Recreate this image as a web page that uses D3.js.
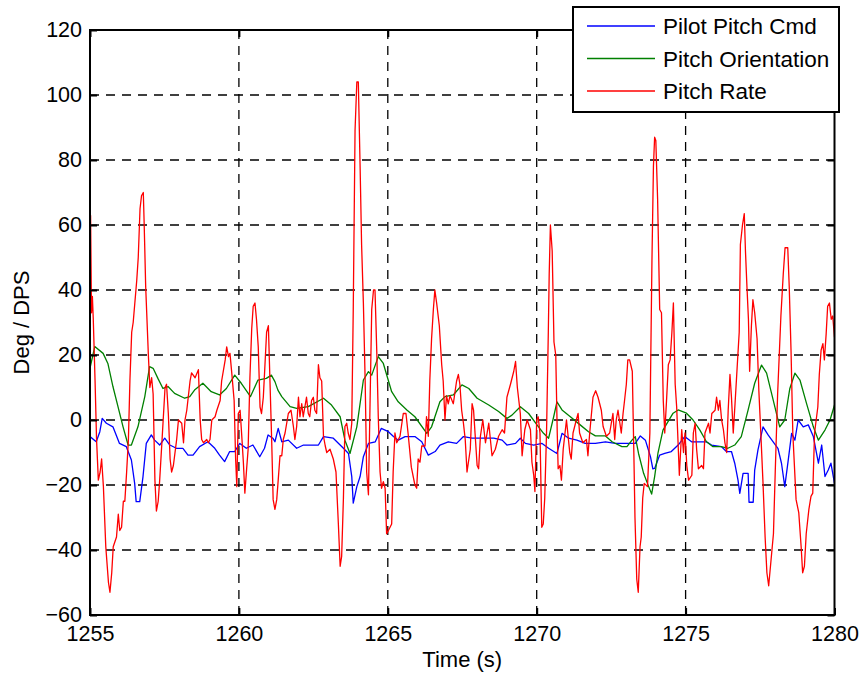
<!DOCTYPE html>
<html><head><meta charset="utf-8">
<script src="https://cdn.jsdelivr.net/npm/d3@7/dist/d3.min.js"></script>
<style>body{margin:0;background:#fff}svg{display:block}</style>
</head><body><svg id="c" width="862" height="681"></svg>
<script>
const xTicks=[1255,1260,1265,1270,1275,1280];
const yTicks=[-60,-40,-20,0,20,40,60,80,100,120];
const seriesNames=["Pilot Pitch Cmd","Pitch Orientation","Pitch Rate"];
const seriesColors=["#0000ff","#008000","#ff0000"];
const xLabel="Time (s)";
const yLabel="Deg / DPS";

const pilotCmd=[[1255,-5.1],[1255.21,-6.7],[1255.33,-3.6],[1255.41,0.5],[1255.55,-1],[1255.77,-2.1],[1255.99,-7.2],[1256.22,-8.2],[1256.39,-12.3],[1256.5,-19.5],[1256.55,-25.1],[1256.67,-25.1],[1256.78,-17.4],[1256.89,-7.2],[1257.06,-4.6],[1257.17,-6.2],[1257.34,-7.7],[1257.51,-5.6],[1257.68,-7.7],[1257.9,-8.7],[1258.12,-8.7],[1258.29,-10.8],[1258.46,-10.8],[1258.68,-8.2],[1258.96,-6.7],[1259.19,-8.7],[1259.35,-10.8],[1259.52,-12.8],[1259.69,-9.7],[1259.86,-9.7],[1260.03,-7.2],[1260.25,-8.7],[1260.47,-7.7],[1260.7,-11.3],[1260.86,-8.7],[1260.98,-4.6],[1261.14,-5.6],[1261.21,-6.7],[1261.32,-2.6],[1261.44,-6.7],[1261.66,-6.2],[1261.94,-8.7],[1262.17,-7.7],[1262.67,-7.7],[1262.84,-5.1],[1263.17,-5.6],[1263.51,-8.7],[1263.68,-10.3],[1263.79,-17.4],[1263.84,-25.6],[1263.96,-20.5],[1264.07,-17.4],[1264.18,-11.3],[1264.35,-7.2],[1264.58,-6.7],[1264.78,-2.6],[1265.02,-3.6],[1265.19,-5.1],[1265.35,-6.2],[1265.58,-5.1],[1265.91,-5.1],[1266.14,-6.7],[1266.36,-10.8],[1266.59,-9.7],[1266.75,-7.7],[1267.03,-6.7],[1267.31,-7.2],[1267.54,-5.1],[1267.83,-5.6],[1268.17,-5.6],[1268.56,-5.6],[1268.84,-6.2],[1269,-7.7],[1269.29,-7.2],[1269.45,-5.6],[1269.62,-7.2],[1269.9,-7.7],[1270.18,-7.2],[1270.4,-8.7],[1270.68,-10.3],[1270.85,-4.1],[1271.07,-5.6],[1271.35,-6.2],[1271.63,-7.2],[1271.97,-7.2],[1272.31,-6.7],[1272.64,-7.2],[1272.98,-7.2],[1273.31,-7.2],[1273.48,-4.9],[1273.65,-6.2],[1273.82,-11.3],[1273.9,-15],[1273.96,-14.9],[1274.13,-10.8],[1274.3,-10.3],[1274.52,-9.7],[1274.75,-7.7],[1274.97,-5.1],[1275.2,-6.7],[1275.7,-6.7],[1275.87,-7.7],[1276.2,-8.2],[1276.37,-9.7],[1276.54,-9.7],[1276.65,-13.3],[1276.76,-18.5],[1276.82,-22.6],[1276.93,-16.4],[1277.1,-16.4],[1277.13,-25.3],[1277.27,-25.3],[1277.32,-15.4],[1277.43,-9.2],[1277.6,-2.1],[1277.77,-4.6],[1277.94,-6.7],[1278.1,-8.7],[1278.22,-13.3],[1278.33,-20.5],[1278.44,-12.8],[1278.56,-4.1],[1278.67,-6.2],[1278.78,0],[1278.95,-2.1],[1279.12,-1.5],[1279.29,-5.1],[1279.46,-13.3],[1279.57,-7.7],[1279.68,-17.4],[1279.79,-15.4],[1279.88,-13.3],[1280,-19.5]];

const pitchOrient=[[1255,16],[1255.16,22.6],[1255.44,20.5],[1255.6,17.4],[1255.77,10.3],[1255.94,4.1],[1256.11,-2.1],[1256.28,-7.7],[1256.39,-7.7],[1256.61,-2.1],[1256.84,7.2],[1257,16.4],[1257.12,15.9],[1257.28,12.8],[1257.45,9.7],[1257.62,10.3],[1257.84,8.2],[1258.18,6.7],[1258.35,7.2],[1258.51,9.2],[1258.79,11.3],[1259.07,8.7],[1259.35,7.7],[1259.58,9.7],[1259.86,13.8],[1260.08,11.3],[1260.39,7.2],[1260.64,12.3],[1260.92,12.8],[1261.09,13.8],[1261.21,11.8],[1261.31,9.2],[1261.44,7.2],[1261.72,4.1],[1261.94,3.6],[1262.33,4.1],[1262.84,6.7],[1263.11,4.6],[1263.4,1],[1263.56,-6.2],[1263.73,-10.3],[1263.96,-2.1],[1264.18,12.3],[1264.35,14.9],[1264.46,13.8],[1264.68,19.5],[1264.85,17.4],[1265.13,8.7],[1265.35,5.6],[1265.64,3.1],[1265.91,1],[1266.31,-4.1],[1266.47,-2.1],[1266.75,5.6],[1266.92,7.2],[1267.2,7.7],[1267.49,10.8],[1267.72,9.7],[1268,6.7],[1268.39,4.6],[1268.72,2.6],[1269,0.5],[1269.17,1.5],[1269.45,4.1],[1269.73,2],[1270.01,-1.5],[1270.23,-4.1],[1270.4,-5.6],[1270.57,1],[1270.68,5.6],[1270.85,3.1],[1271.13,1],[1271.46,-1.5],[1271.74,-3.6],[1271.97,-4.9],[1272.31,-4.9],[1272.53,-6.7],[1272.86,-8.2],[1273.03,-8.2],[1273.2,-6.2],[1273.31,-5.1],[1273.42,-10.3],[1273.59,-16.4],[1273.76,-20.5],[1273.86,-22.8],[1273.96,-17.4],[1274.07,-10.3],[1274.24,-3.1],[1274.41,-0.5],[1274.58,2.1],[1274.75,3.1],[1275.03,2.1],[1275.25,0],[1275.48,-3.1],[1275.7,-6.7],[1275.92,-8.2],[1276.2,-8.2],[1276.42,-8.7],[1276.65,-7.7],[1276.87,-5.1],[1277.1,3.1],[1277.32,11.3],[1277.55,16.9],[1277.72,14.4],[1277.94,6.2],[1278.16,-2.1],[1278.33,0],[1278.5,9.7],[1278.67,14.4],[1278.84,12.3],[1279.06,5.1],[1279.29,-2.1],[1279.46,-6.2],[1279.68,-3.1],[1279.85,0],[1280,4.6]];

const pitchRate=[[1255.02,63],[1255.05,33],[1255.08,38],[1255.11,31],[1255.17,12],[1255.22,-6],[1255.28,-18.5],[1255.34,-16],[1255.39,-12],[1255.45,-20.5],[1255.53,-39],[1255.62,-50],[1255.67,-53],[1255.73,-47],[1255.78,-39],[1255.89,-36],[1255.95,-29],[1256,-34],[1256.06,-33],[1256.12,-25],[1256.17,-25],[1256.23,-16],[1256.29,-6],[1256.34,12],[1256.4,27],[1256.45,30],[1256.57,43],[1256.62,50],[1256.68,65],[1256.73,69],[1256.79,70],[1256.82,60],[1256.87,41],[1256.96,20],[1257.01,10],[1257.07,13],[1257.12,8],[1257.18,-18.5],[1257.23,-28],[1257.29,-25],[1257.34,-18.5],[1257.42,-6],[1257.52,10],[1257.57,11],[1257.63,2],[1257.69,-12],[1257.74,-16],[1257.8,-14],[1257.91,-6],[1257.97,0],[1258.08,-1],[1258.14,-7],[1258.19,0],[1258.25,3],[1258.36,12],[1258.41,14.5],[1258.53,13],[1258.64,15.5],[1258.7,0],[1258.75,-6],[1258.81,-7],[1258.92,-6],[1258.97,-7],[1259.03,-6],[1259.09,0],[1259.2,1],[1259.26,3],[1259.37,6],[1259.42,12],[1259.54,18.5],[1259.59,22.5],[1259.65,19.5],[1259.7,20.5],[1259.76,14.5],[1259.84,6],[1259.89,-12],[1259.93,-20.5],[1259.98,2],[1260.04,3],[1260.09,-4],[1260.15,-13],[1260.2,-22.5],[1260.26,-15],[1260.31,-9],[1260.37,13],[1260.43,28],[1260.48,35],[1260.54,36],[1260.59,31],[1260.65,22.5],[1260.71,4],[1260.76,2],[1260.82,7],[1260.87,16],[1260.93,27],[1260.99,29],[1261.04,13],[1261.1,-6],[1261.15,-24.5],[1261.21,-27.5],[1261.27,-24.5],[1261.32,-18.5],[1261.38,-11],[1261.44,-11],[1261.49,-6],[1261.55,-4],[1261.66,2],[1261.75,3],[1261.83,-2],[1261.88,-6],[1261.94,-2],[1262,7],[1262.05,1],[1262.11,5],[1262.16,1],[1262.27,7],[1262.33,2],[1262.38,1],[1262.44,6],[1262.5,7],[1262.55,3],[1262.61,2],[1262.67,17],[1262.72,13],[1262.78,12],[1262.84,-5],[1262.9,-8],[1262.95,-10],[1263.06,-9],[1263.17,-12],[1263.26,-16],[1263.34,-32],[1263.4,-45],[1263.45,-42],[1263.51,-24],[1263.56,-2],[1263.62,-1],[1263.67,-4],[1263.73,-6],[1263.79,-1],[1263.84,34],[1263.9,89],[1263.96,104],[1264.01,104],[1264.07,78],[1264.12,54],[1264.18,36],[1264.24,12],[1264.29,-16],[1264.35,-23],[1264.4,3],[1264.46,34],[1264.52,40],[1264.57,40],[1264.63,21],[1264.68,1],[1264.74,-16],[1264.79,-21],[1264.85,-19],[1264.91,-21],[1264.96,-35],[1265.02,-34],[1265.13,-32],[1265.18,-16],[1265.24,-4],[1265.3,-7],[1265.41,-5],[1265.52,2],[1265.61,2],[1265.68,-4],[1265.79,-14.5],[1265.91,-20],[1265.97,-21],[1266.02,-12],[1266.08,-13],[1266.14,-8],[1266.25,-8],[1266.3,1],[1266.36,-5],[1266.41,12],[1266.47,25],[1266.53,34],[1266.58,40],[1266.64,36],[1266.73,29],[1266.81,17],[1266.86,12],[1266.92,0],[1266.97,7.5],[1267.03,5],[1267.09,7.5],[1267.2,5],[1267.31,12],[1267.37,14],[1267.42,11],[1267.48,3],[1267.54,-1],[1267.6,-6],[1267.66,-16],[1267.77,-9],[1267.83,5],[1267.88,3],[1268,-14],[1268.05,-15],[1268.11,-5],[1268.19,0],[1268.28,-7],[1268.39,-1],[1268.5,-11],[1268.61,-9],[1268.72,-5],[1268.84,-3],[1268.92,-4],[1269,7],[1269.12,11],[1269.23,15],[1269.29,18],[1269.35,10],[1269.45,2],[1269.51,-11],[1269.6,-3],[1269.68,0],[1269.79,-3],[1269.84,-13],[1269.9,-17],[1269.94,-22],[1270,0],[1270.05,1],[1270.11,-4],[1270.17,-33],[1270.22,-32],[1270.27,-24],[1270.33,-4],[1270.39,27],[1270.42,45],[1270.46,60],[1270.52,52],[1270.58,24],[1270.64,20],[1270.69,-4],[1270.72,-15],[1270.78,-14],[1270.83,-18.5],[1270.89,-9],[1271,0],[1271.11,-10],[1271.16,-12],[1271.22,-4],[1271.33,0],[1271.39,2],[1271.44,-4],[1271.55,-7],[1271.67,-6],[1271.72,-11],[1271.78,-4],[1271.89,7],[1271.98,9],[1272.06,7],[1272.17,3],[1272.23,-2],[1272.34,-5],[1272.45,-4],[1272.56,2],[1272.62,-6],[1272.67,0],[1272.73,3],[1272.84,-4],[1272.9,2],[1272.95,6],[1273.01,11],[1273.06,18.5],[1273.12,18.5],[1273.21,15],[1273.26,-9],[1273.3,-30],[1273.36,-49],[1273.41,-53],[1273.47,-39],[1273.51,-36],[1273.56,-24],[1273.61,-19.5],[1273.72,-20.5],[1273.8,-4],[1273.87,49],[1273.92,78],[1273.96,87],[1274,86],[1274.06,68],[1274.13,34],[1274.19,33],[1274.25,6],[1274.3,-4],[1274.36,6],[1274.42,17],[1274.48,18.5],[1274.54,27],[1274.59,36],[1274.65,11],[1274.7,4],[1274.79,-17],[1274.87,-3],[1274.93,-10],[1274.98,-4],[1275.04,-14],[1275.1,-18.5],[1275.21,-17],[1275.26,-4],[1275.32,-1],[1275.37,-9],[1275.43,-15],[1275.54,-14],[1275.6,-15],[1275.65,-4],[1275.77,-1],[1275.82,-4],[1275.88,2],[1275.99,3],[1276.04,7],[1276.1,3],[1276.15,6],[1276.21,0],[1276.27,-3],[1276.32,-7],[1276.38,-10],[1276.43,3],[1276.49,14],[1276.54,7],[1276.6,-4],[1276.66,5],[1276.73,16],[1276.8,27],[1276.84,54],[1276.91,60],[1276.97,63.5],[1277.01,52],[1277.06,41],[1277.11,31],[1277.15,15],[1277.21,29],[1277.26,37],[1277.32,33],[1277.4,25],[1277.46,9],[1277.54,-7],[1277.6,-19.5],[1277.67,-36],[1277.73,-47],[1277.79,-51],[1277.87,-43],[1277.95,-35],[1278.01,-16],[1278.09,8],[1278.2,32],[1278.28,45],[1278.34,53],[1278.43,53],[1278.48,41],[1278.54,21.5],[1278.6,-4],[1278.71,-24.5],[1278.8,-28.5],[1278.88,-39],[1278.93,-47],[1278.99,-45],[1279.05,-35],[1279.14,-27.5],[1279.21,-23.5],[1279.27,-22.5],[1279.33,-4],[1279.44,4],[1279.49,14],[1279.55,21.5],[1279.61,23.5],[1279.66,18.5],[1279.72,26.5],[1279.77,35],[1279.83,36],[1279.89,31],[1279.94,32],[1280,25.5]];

const seriesData=[pilotCmd,pitchOrient,pitchRate];

const svg=d3.select("#c");
const L=90,T=30,R=834.5,B=615;
const x=d3.scaleLinear().domain([1255,1280]).range([L,R]);
const y=d3.scaleLinear().domain([-60,120]).range([B,T]);
const FONT="'Liberation Sans', Arial, Helvetica, sans-serif";

svg.append("rect").attr("width",862).attr("height",681).attr("fill","#fff");

// grid
const grid=svg.append("g").attr("stroke","#000").attr("stroke-width",1.3).attr("stroke-dasharray","9,7");
grid.selectAll("line.v").data(xTicks.slice(1,-1)).join("line").attr("class","v")
  .attr("x1",d=>x(d)).attr("x2",d=>x(d)).attr("y1",T).attr("y2",B);
grid.selectAll("line.h").data(yTicks.slice(1,-1)).join("line").attr("class","h")
  .attr("y1",d=>y(d)).attr("y2",d=>y(d)).attr("x1",L).attr("x2",R);

// clip
svg.append("clipPath").attr("id","clip").append("rect")
  .attr("x",L).attr("y",T).attr("width",R-L).attr("height",B-T);

const line=d3.line().x(d=>x(d[0])).y(d=>y(d[1]));
const gl=svg.append("g").attr("clip-path","url(#clip)");
seriesData.forEach((s,i)=>{
  gl.append("path").datum(s).attr("d",line).attr("fill","none")
    .attr("stroke",seriesColors[i]).attr("stroke-width",1.3).attr("stroke-linejoin","round");
});

// axes (inward ticks on all sides)
function styleAxis(g){
  g.select(".domain").remove();
  g.selectAll(".tick line").attr("stroke","#000").attr("stroke-width",2);
  g.selectAll(".tick text").attr("font-family",FONT).attr("font-size",21.5).attr("fill","#000");
}
svg.append("g").attr("transform",`translate(0,${B})`)
  .call(d3.axisBottom(x).tickValues(xTicks).tickFormat(d3.format("d")).tickSize(-7).tickPadding(11))
  .call(styleAxis);
svg.append("g").attr("transform",`translate(0,${T})`)
  .call(d3.axisTop(x).tickValues(xTicks).tickFormat("").tickSize(-7))
  .call(styleAxis);
svg.append("g").attr("transform",`translate(${L},0)`)
  .call(d3.axisLeft(y).tickValues(yTicks).tickFormat(d3.format("d")).tickSize(-7).tickPadding(8))
  .call(styleAxis);
svg.append("g").attr("transform",`translate(${R},0)`)
  .call(d3.axisRight(y).tickValues(yTicks).tickFormat("").tickSize(-7))
  .call(styleAxis);

// box
svg.append("rect").attr("x",L).attr("y",T).attr("width",R-L).attr("height",B-T)
  .attr("fill","none").attr("stroke","#000").attr("stroke-width",2);

// labels
svg.append("text").attr("x",(L+R)/2).attr("y",667).attr("text-anchor","middle")
  .attr("font-family",FONT).attr("font-size",22).text(xLabel);
svg.append("text").attr("transform",`translate(29,${(T+B)/2}) rotate(-90)`).attr("text-anchor","middle")
  .attr("font-family",FONT).attr("font-size",22).text(yLabel);

// legend
const lg=svg.append("g");
lg.append("rect").attr("x",573).attr("y",7).attr("width",266).attr("height",105)
  .attr("fill","#fff").attr("stroke","#000").attr("stroke-width",2);
seriesNames.forEach((n,i)=>{
  const yy=26+i*32.5;
  lg.append("line").attr("x1",587).attr("x2",655).attr("y1",yy).attr("y2",yy)
    .attr("stroke",seriesColors[i]).attr("stroke-width",1.4);
  lg.append("text").attr("x",663).attr("y",yy+8).attr("font-family",FONT).attr("font-size",22.5).text(n);
});
</script></body></html>
